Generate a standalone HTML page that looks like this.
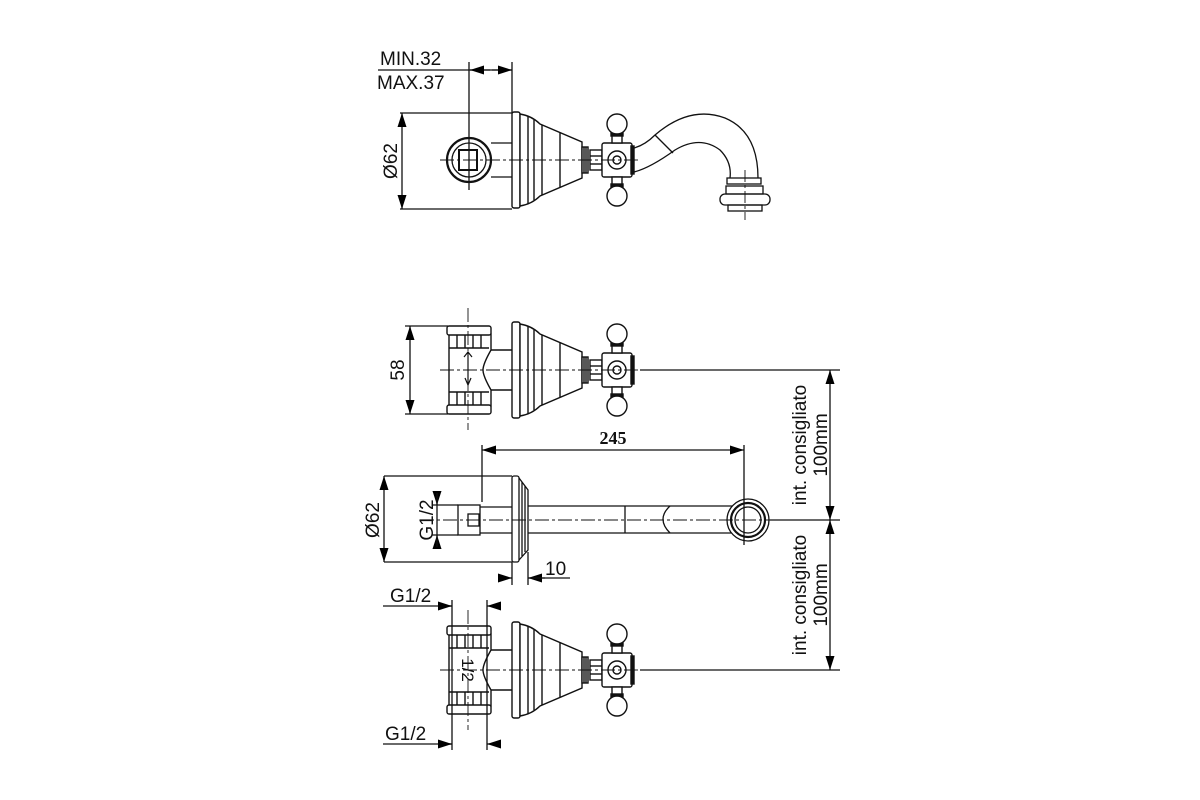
<!DOCTYPE html>
<html><head><meta charset="utf-8"><style>
html,body{margin:0;padding:0;background:#fff;width:1200px;height:800px;overflow:hidden}
svg{display:block}
text{font-family:"Liberation Sans",sans-serif;fill:#111}
</style></head><body>
<svg width="1200" height="800" viewBox="0 0 1200 800" xmlns="http://www.w3.org/2000/svg">
<defs>
<marker id="a" viewBox="0 0 10 10" refX="10" refY="5" markerWidth="14" markerHeight="9" orient="auto-start-reverse" markerUnits="userSpaceOnUse" preserveAspectRatio="none"><path d="M0,0L10,5L0,10z" fill="#000"/></marker>
<g id="bell" fill="#fff" stroke="#111" stroke-width="1.4">
  <rect x="0" y="-48" width="8" height="96" rx="2"/>
  <path d="M8,-46 Q20,-44 28,-36 L70,-18 L70,18 L28,36 Q20,44 8,46z"/>
  <line x1="16" y1="-44" x2="16" y2="44"/><line x1="22" y1="-40" x2="22" y2="40"/><line x1="30" y1="-35" x2="30" y2="35"/><line x1="48" y1="-27" x2="48" y2="27"/>
  <rect x="70" y="-13" width="6" height="26"/><line x1="72" y1="-13" x2="72" y2="13"/><line x1="74" y1="-13" x2="74" y2="13"/>
  <rect x="78" y="-10" width="12" height="20"/><line x1="78" y1="-4" x2="90" y2="-4"/><line x1="78" y1="4" x2="90" y2="4"/>
  <rect x="90" y="-17" width="30" height="34" rx="2"/>
  <rect x="119" y="-14" width="3" height="28" fill="#111"/>
  <circle cx="105" cy="0" r="9"/><circle cx="105" cy="0" r="4"/>
  <rect x="100" y="-28" width="10" height="11"/><rect x="100" y="17" width="10" height="11"/>
  <rect x="99" y="-27" width="12" height="3" fill="#111"/><rect x="99" y="24" width="12" height="3" fill="#111"/>
  <circle cx="105" cy="-36" r="10"/><circle cx="105" cy="36" r="10"/>
</g>
<g id="tee" fill="#fff" stroke="#111" stroke-width="1.4">
  <path d="M-20,-36 L22,-36 L22,-20 Q14,-6 14,0 Q14,6 22,20 L22,36 L-20,36z"/>
  <rect x="-22" y="-44" width="44" height="9" rx="2"/><rect x="-22" y="35" width="44" height="9" rx="2"/>
  <line x1="-12" y1="-35" x2="-12" y2="-22"/><line x1="-4" y1="-35" x2="-4" y2="-22"/><line x1="4" y1="-35" x2="4" y2="-22"/><line x1="12" y1="-35" x2="12" y2="-22"/>
  <line x1="-12" y1="22" x2="-12" y2="35"/><line x1="-4" y1="22" x2="-4" y2="35"/><line x1="4" y1="22" x2="4" y2="35"/><line x1="12" y1="22" x2="12" y2="35"/>
  <line x1="-20" y1="-22" x2="20" y2="-22"/><line x1="-20" y1="22" x2="20" y2="22"/>
  <path d="M22,-20 L44,-20 M22,20 L44,20"/>
</g>
</defs>

<g stroke="#111" stroke-width="1.3" fill="none">
<!-- TOP VIEW -->
<line x1="378" y1="70" x2="512" y2="70"/>
<line x1="490" y1="70" x2="470" y2="70" marker-end="url(#a)"/>
<line x1="492" y1="70" x2="512" y2="70" marker-end="url(#a)"/>
<line x1="469" y1="62" x2="469" y2="190"/>
<line x1="512" y1="62" x2="512" y2="113"/>
<line x1="400" y1="113" x2="512" y2="113"/><line x1="400" y1="209" x2="512" y2="209"/>
<line x1="402" y1="113" x2="402" y2="209" marker-start="url(#a)" marker-end="url(#a)"/>
<circle cx="469" cy="160" r="22" stroke-width="2.2"/><circle cx="469" cy="160" r="17"/>
<rect x="459" y="150" width="18" height="20" stroke-width="2"/>
<line x1="491" y1="143" x2="512" y2="143"/><line x1="491" y1="177" x2="512" y2="177"/>
<use href="#bell" x="512" y="160"/>
<path d="M634,148 Q645,145 655,135 Q690,105 725,118 Q758,132 758,178"/>
<path d="M634,172 Q650,168 675,150 Q700,135 720,150 Q732,162 730,178"/>
<line x1="655" y1="135" x2="673" y2="153"/>
<rect x="727" y="178" width="34" height="6"/><rect x="726" y="186" width="37" height="8"/>
<rect x="720" y="194" width="50" height="11" rx="5"/><rect x="728" y="205" width="34" height="6"/>
<line x1="440" y1="160" x2="640" y2="160" stroke-dasharray="14,3,3,3" stroke-width="0.9"/>
<line x1="745" y1="170" x2="745" y2="220" stroke-dasharray="12,3,3,3" stroke-width="0.9"/>

<!-- MIDDLE VALVE -->
<line x1="405" y1="326" x2="448" y2="326"/><line x1="405" y1="414" x2="448" y2="414"/>
<line x1="410" y1="326" x2="410" y2="414" marker-start="url(#a)" marker-end="url(#a)"/>
<use href="#tee" x="469" y="370"/>
<use href="#bell" x="512" y="370"/>
<line x1="468" y1="308" x2="468" y2="430" stroke-dasharray="14,3,3,3" stroke-width="0.9"/>
<line x1="440" y1="370" x2="640" y2="370" stroke-dasharray="14,3,3,3" stroke-width="0.9"/>
<line x1="640" y1="370" x2="840" y2="370"/>
<path d="M468,352 L468,385 M464,357 L468,352 L472,357 M465,378 L468,385 L471,378" stroke-width="1.2"/>

<!-- SPOUT VIEW -->
<line x1="384" y1="476" x2="512" y2="476"/><line x1="384" y1="562" x2="512" y2="562"/>
<line x1="384" y1="476" x2="384" y2="562" marker-start="url(#a)" marker-end="url(#a)"/>
<line x1="432" y1="505" x2="458" y2="505"/><line x1="432" y1="535" x2="458" y2="535"/>
<line x1="437" y1="493" x2="437" y2="505" marker-end="url(#a)"/>
<line x1="437" y1="547" x2="437" y2="535" marker-end="url(#a)"/>
<line x1="437" y1="493" x2="437" y2="547"/>
<rect x="458" y="505" width="22" height="30" fill="#fff"/>
<rect x="468" y="514" width="11" height="12"/>
<line x1="480" y1="507" x2="512" y2="507"/><line x1="480" y1="533" x2="512" y2="533"/>
<rect x="512" y="476" width="7" height="86" rx="2"/>
<path d="M519,478 L528,490 L528,550 L519,560"/>
<line x1="522" y1="482" x2="522" y2="556"/><line x1="525" y1="486" x2="525" y2="552"/>
<line x1="528" y1="506" x2="745" y2="506"/><line x1="528" y1="533" x2="745" y2="533"/>
<line x1="625" y1="506" x2="625" y2="533"/>
<path d="M670,506 Q656,519 670,533"/>
<circle cx="748" cy="520" r="21" fill="#fff"/><circle cx="748" cy="520" r="17" stroke-width="2.2"/><circle cx="748" cy="520" r="13"/>
<line x1="482" y1="445" x2="482" y2="502"/><line x1="744" y1="445" x2="744" y2="545"/>
<line x1="482" y1="450" x2="744" y2="450" marker-start="url(#a)" marker-end="url(#a)"/>
<line x1="420" y1="520" x2="790" y2="520" stroke-dasharray="14,3,3,3" stroke-width="0.9"/>
<line x1="512" y1="562" x2="512" y2="585"/><line x1="528" y1="552" x2="528" y2="585"/>
<line x1="498" y1="578" x2="512" y2="578" marker-end="url(#a)"/>
<line x1="545" y1="578" x2="528" y2="578" marker-end="url(#a)"/>
<line x1="528" y1="578" x2="570" y2="578"/>

<!-- RIGHT DIM -->
<line x1="770" y1="520" x2="840" y2="520"/>
<line x1="830" y1="370" x2="830" y2="520" marker-start="url(#a)" marker-end="url(#a)"/>
<line x1="830" y1="520" x2="830" y2="670" marker-start="url(#a)" marker-end="url(#a)"/>
<line x1="640" y1="670" x2="840" y2="670"/>

<!-- BOTTOM VALVE -->
<use href="#tee" x="469" y="670"/>
<use href="#bell" x="512" y="670"/>
<line x1="452" y1="600" x2="452" y2="750"/><line x1="487" y1="600" x2="487" y2="750"/>
<line x1="383" y1="606" x2="452" y2="606"/>
<line x1="438" y1="606" x2="452" y2="606" marker-end="url(#a)"/>
<line x1="501" y1="606" x2="487" y2="606" marker-end="url(#a)"/>
<line x1="383" y1="744" x2="452" y2="744"/>
<line x1="438" y1="744" x2="452" y2="744" marker-end="url(#a)"/>
<line x1="501" y1="744" x2="487" y2="744" marker-end="url(#a)"/>
<line x1="468" y1="610" x2="468" y2="730" stroke-dasharray="14,3,3,3" stroke-width="0.9"/>
<line x1="440" y1="670" x2="640" y2="670" stroke-dasharray="14,3,3,3" stroke-width="0.9"/>
</g>

<g font-size="19">
<text x="380" y="65">MIN.32</text>
<text x="377" y="89">MAX.37</text>
<text transform="translate(397,161) rotate(-90)" text-anchor="middle">Ø62</text>
<text transform="translate(404,370) rotate(-90)" text-anchor="middle">58</text>
<text x="613" y="444" text-anchor="middle" font-weight="bold" style="font-family:'Liberation Serif',serif" font-size="18">245</text>
<text transform="translate(379,520) rotate(-90)" text-anchor="middle">Ø62</text>
<text transform="translate(433,520) rotate(-90)" text-anchor="middle">G1/2</text>
<text x="545" y="575">10</text>
<text transform="translate(806,445) rotate(-90)" text-anchor="middle">int. consigliato</text>
<text transform="translate(827,445) rotate(-90)" text-anchor="middle">100mm</text>
<text transform="translate(806,595) rotate(-90)" text-anchor="middle">int. consigliato</text>
<text transform="translate(827,595) rotate(-90)" text-anchor="middle">100mm</text>
<text x="390" y="602">G1/2</text>
<text x="385" y="740">G1/2</text>
<text transform="translate(462,670) rotate(90)" text-anchor="middle" font-size="17">1/2</text>
</g>
</svg>
</body></html>
